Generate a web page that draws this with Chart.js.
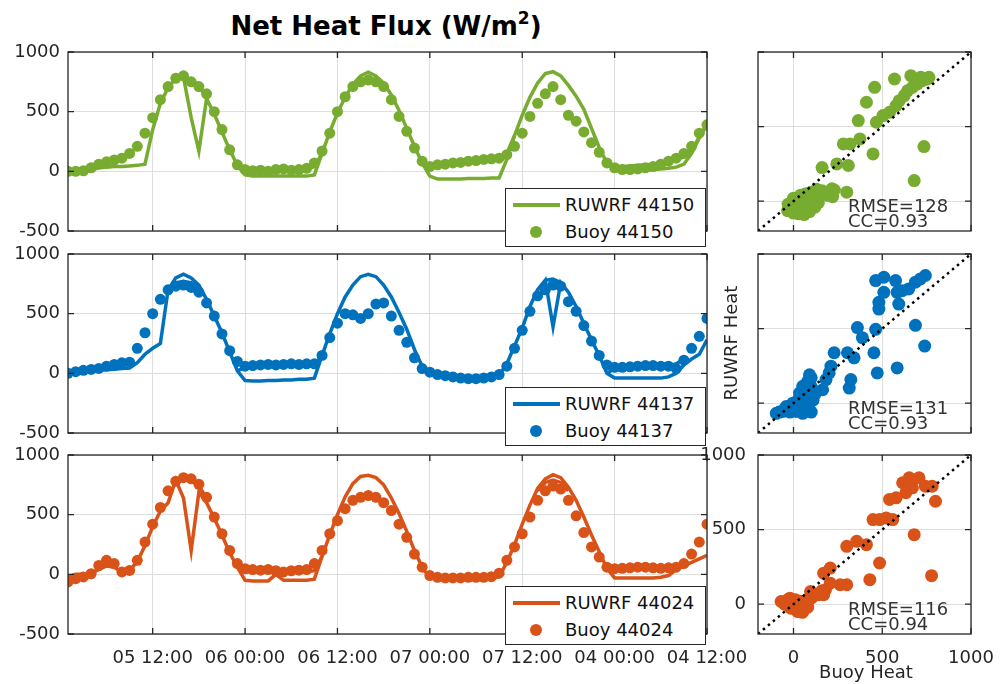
<!DOCTYPE html>
<html>
<head>
<meta charset="utf-8">
<script src="https://cdn.jsdelivr.net/npm/chart.js@4.4.0/dist/chart.umd.min.js"></script>
<style>
  body { margin: 0; background: #fff; }
  #wrap { position: relative; width: 1000px; height: 684px; overflow: hidden;
          font-family: 'DejaVu Sans', sans-serif; color: #262626; }
  canvas { position: absolute; }
  .txt { position: absolute; white-space: nowrap; font-size: 18px; }
  #title { position: absolute; left: 0; width: 772px; top: 11px; text-align: center;
           font-size: 26px; font-weight: bold; line-height: 30px; color: #000; }
  #title span { font-size: 17px; position: relative; top: -11px; }
  .legend { position: absolute; background: #fff; border: 1px solid #262626; z-index: 5; }
  .legend .ln { position: absolute; left: 7px; width: 47px; height: 4px; }
  .legend .dot { position: absolute; left: 24px; width: 12px; height: 12px; border-radius: 50%; }
  .legend .lt { position: absolute; left: 59px; line-height: 20px; font-size: 18px; color: #111; }
  .stat { position: absolute; left: 848px; font-size: 18px; line-height: 15px; color: #333; z-index: 4; }
</style>
</head>
<body>
<div id="wrap">
  <div id="title">Net Heat Flux (W/m<span>2</span>)</div>
</div>
<script>
'use strict';

// time axis, hourly samples
let tickHours = [11, 23, 35, 47, 59, 71, 83];
let tickLabels = ['05 12:00', '06 00:00', '06 12:00', '07 00:00', '07 12:00', '04 00:00', '04 12:00'];
let yTicks = [-500, 0, 500, 1000];
let scatterTicks = [0, 500, 1000];
let oneToOne = [-200, 1000];

let stations = ['44150', '44137', '44024'];
let colors = ['#77AC30', '#0072BD', '#D95319'];
let rmse = [128, 131, 116];
let cc = [0.93, 0.93, 0.94];

// 44150
let buoy150 = [0,0,5,30,60,80,95,110,150,210, 320,450,600,710,780,800,750,710,650,500,
  350,180,55,15,5,10,0,15,20,10, 15,25,70,170,320,500,625,710,750,765,
  750,710,600,460,335,195,85,40,55,60, 70,75,85,90,100,105,110,140,210,320,
  460,570,650,710,600,470,420,330,240,160, 70,30,15,15,20,30,40,60,85,110,
  150,210,320,390];
let ruwrf150 = [0,0,0,10,30,35,40,40,45,50, 60,350,570,700,780,790,450,170,610,480,
  330,180,50,-30,-40,-40,-40,-40,-40,-40, -40,-40,-30,150,330,490,620,730,800,830,
  800,740,640,510,360,210,70,-40,-65,-65, -65,-65,-60,-60,-60,-55,-55,100,300,470,
  620,740,820,835,800,720,630,520,360,200, 70,10,0,0,5,10,15,20,25,35,
  60,150,280,390];
let ruwrf150b = [null,null,null,null,null,null,null,null,null,null,
  null,null,null,null,780,800,770,720,610,null,
  null,null,50,10,10,5,10,15,20,10, 15,20,40,150,null,null,null,null,null,null,
  null,null,null,null,null,null,70,55,65,70, 75,80,85,90,95,100,105,150,300,null,
  null,null,null,null,null,null,null,null,null,null, 70,40,40,45,50,55,60,70,85,100,
  120,170,290,390];

// 44137
let buoy137 = [0,14,25,33,41,60,74,88,93,210, 340,500,620,700,730,740,720,680,590,480,
  330,190,100,60,65,70,75,70,75,80, 75,80,80,150,300,420,500,490,460,500,
  580,590,480,360,260,130,40,10,-10,-20, -30,-40,-45,-45,-40,-30,-10,60,210,360,
  520,650,700,740,730,600,520,400,270,150, 70,50,50,55,60,65,65,60,60,40,
  110,210,310,460];
let ruwrf137 = [0,10,15,20,25,30,35,40,45,90, 160,210,250,700,800,830,800,740,620,480,
  340,180,20,-60,-65,-65,-60,-60,-55,-55, -50,-50,-40,150,330,500,640,740,810,830,
  810,740,640,510,370,200,60,-10,-20,-30, -40,-45,-50,-50,-45,-35,-15,80,230,380,
  560,700,780,390,760,680,560,420,280,150, 0,-40,-40,-40,-40,-40,-40,-40,-30,0,
  70,120,160,280];
let ruwrf137b = [null,null,null,null,null,null,null,null,null,null,
  null,null,null,700,760,770,760,720,null,null,
  null,null,20,50,60,60,65,65,70,70, 70,70,70,150,null,null,null,null,null,null,
  null,null,null,null,null,null,null,null,null,null, null,null,null,null,null,null,null,null,null,null,
  null,null,780,790,760,null,null,null,null,null, 0,40,50,55,60,60,55,40,60,80,
  120,null,null,null];

// 44024
let buoy024 = [-64,-36,-22,5,75,117,90,20,33,117, 270,420,560,700,780,810,800,755,645,480,
  340,200,90,47,40,35,40,30,20,30, 35,40,90,200,340,450,550,620,645,660,
  645,600,535,420,310,170,60,-10,-25,-30, -30,-30,-25,-25,-25,-20,10,117,230,340,
  480,620,700,740,715,620,490,350,230,145, 60,47,50,55,60,60,55,50,55,60,
  90,170,270,420];
let ruwrf024 = [-20,0,0,10,40,70,60,20,30,110, 240,400,530,600,790,640,200,690,600,470,
  330,180,60,-50,-55,-55,-55,0,-50,-50, -50,-50,-40,150,330,500,650,760,820,830,
  810,750,640,510,360,200,60,-30,-40,-40, -40,-40,-40,-40,-40,-35,-20,100,250,420,
  580,720,800,835,810,730,620,480,330,190, 50,-30,-30,-30,-30,-30,-30,-25,-10,40,
  70,100,130,160];
let ruwrf024b = [null,null,null,null,null,null,null,null,null,null,
  null,null,null,null,790,810,790,740,640,null,
  null,null,60,20,20,15,20,15,20,20, 20,20,30,150,null,null,null,null,null,null,
  null,null,null,null,null,null,null,null,null,null, null,null,null,null,null,null,null,null,null,null,
  null,700,770,790,770,700,null,null,null,null, 50,40,40,45,45,50,50,50,60,60,
  80,null,null,null];

// scatter: buoy (x) vs RUWRF (y)
let scat150x = [-15,13,50,78,106,22,59,96,124,152,180,207,-33,217,161,309,281,319,374,365,411,457,569,661,717,754,448,735,680,300,467,504,541,578,596,624,643,670,698,726,763,244,
  0,30,60,90,120,140,-30,0,40,70,100,130,160,190,220,230];
let scat150y = [-40,-63,-74,-51,-29,-7,16,27,49,49,60,60,-63,83,225,239,384,384,417,540,663,763,819,841,830,819,317,366,138,60,529,574,596,641,674,708,741,763,786,808,830,250,
  -80,-85,-90,-70,-40,-10,-20,20,40,50,60,80,70,40,30,75];
let scat137x = [-97,-60,-22,15,52,90,71,90,62,80,52,34,-4,-41,164,183,211,201,229,304,341,323,314,360,388,453,472,584,463,481,481,509,463,509,575,584,593,612,649,687,715,743,687,739,
  -80,-50,-20,10,40,70,100,110,100,100,90,120,30,0];
let scat137y = [-68,-56,-45,-56,-68,-45,0,45,90,146,113,68,0,-23,90,158,248,203,338,338,304,158,101,507,439,338,203,236,495,631,676,743,822,844,822,743,664,754,766,811,833,856,522,383,
  -60,-40,-60,-40,-30,-20,-60,20,110,170,190,60,30,-20];
let scat024x = [-70,-33,4,-15,22,59,41,78,106,143,170,96,69,170,207,207,263,300,300,356,411,430,485,448,485,522,559,541,578,615,652,707,743,781,800,680,778,633,670,
  -50,-20,10,40,60,80,100,120,30,50,0,160,180];
let scat024y = [18,29,7,-27,-49,-38,-4,29,52,63,63,85,-16,208,242,141,130,130,388,421,399,164,276,567,567,578,567,702,713,814,847,847,791,791,690,466,191,747,780,
  0,40,30,20,10,-20,40,60,-40,-55,-10,90,95];

const hours = buoy150.map((v, i) => i);

const panels = [
  {top: 52, bottom: 231, buoy: buoy150, model: ruwrf150, alt: ruwrf150b, sx: scat150x, sy: scat150y, showX: false, legTop: 188},
  {top: 254, bottom: 433, buoy: buoy137, model: ruwrf137, alt: ruwrf137b, sx: scat137x, sy: scat137y, showX: false, legTop: 387},
  {top: 455, bottom: 634, buoy: buoy024, model: ruwrf024, alt: ruwrf024b, sx: scat024x, sy: scat024y, showX: true, legTop: 586}
];

Chart.defaults.font.family = "'DejaVu Sans', sans-serif";
Chart.defaults.font.size = 18;
Chart.defaults.color = '#262626';

const wrap = document.getElementById('wrap');
const gridColor = '#dedede';

function pts(xs, ys) {
  return xs.map((x, i) => ({x: x, y: ys[i]}));
}

function makeCanvas(left, top, w, h) {
  let c = document.createElement('canvas');
  c.width = w; c.height = h;
  c.style.left = left + 'px'; c.style.top = top + 'px';
  c.style.width = w + 'px'; c.style.height = h + 'px';
  wrap.appendChild(c);
  return c.getContext('2d');
}

// matlab style box with inward ticks
const boxPlugin = {
  id: 'box',
  afterDraw(chart) {
    let a = chart.chartArea;
    let c = chart.ctx;
    let xs = chart.scales.x, ys = chart.scales.y;
    c.save();
    c.strokeStyle = '#262626';
    c.lineWidth = 1.3;
    c.beginPath();
    xs.ticks.forEach(t => {
      let px = xs.getPixelForValue(t.value);
      c.moveTo(px, a.bottom); c.lineTo(px, a.bottom - 6);
      c.moveTo(px, a.top); c.lineTo(px, a.top + 6);
    });
    ys.ticks.forEach(t => {
      let py = ys.getPixelForValue(t.value);
      c.moveTo(a.left, py); c.lineTo(a.left + 6, py);
      c.moveTo(a.right, py); c.lineTo(a.right - 6, py);
    });
    c.stroke();
    c.strokeRect(a.left, a.top, a.right - a.left, a.bottom - a.top);
    c.restore();
  }
};

function seriesChart(p, i) {
  let padTop = 16;
  let bottomH = p.showX ? 50 : 16;
  let ctx = makeCanvas(0, p.top - padTop, 760, padTop + (p.bottom - p.top) + bottomH);
  new Chart(ctx, {
    type: 'scatter',
    data: {
      datasets: [
        {label: 'Buoy ' + stations[i], data: pts(hours, p.buoy), showLine: false,
         pointRadius: 5.5, pointBackgroundColor: colors[i], pointBorderWidth: 0, order: 0},
        {label: 'RUWRF ' + stations[i], data: pts(hours, p.model), showLine: true,
         borderColor: colors[i], borderWidth: 3.5, pointRadius: 0, order: 1},
        {label: 'RUWRF ' + stations[i], data: pts(hours, p.alt), showLine: true, spanGaps: false,
         borderColor: colors[i], borderWidth: 3.5, pointRadius: 0, order: 1}
      ]
    },
    options: {
      responsive: false, animation: false, devicePixelRatio: 1,
      layout: {padding: {top: padTop, right: 53, left: 0, bottom: 0}, autoPadding: false},
      plugins: {legend: {display: false}, tooltip: {enabled: false}},
      scales: {
        x: {
          type: 'linear', min: 0, max: 83,
          afterBuildTicks: s => { s.ticks = tickHours.map(v => ({value: v})); },
          afterFit: s => { s.height = bottomH; s.paddingLeft = 0; s.paddingRight = 0; },
          grid: {color: gridColor, drawTicks: false},
          border: {display: false},
          ticks: {display: p.showX, padding: 14, maxRotation: 0, autoSkip: false,
                  callback: v => tickLabels[tickHours.indexOf(v)]}
        },
        y: {
          min: -500, max: 1000,
          afterBuildTicks: s => { s.ticks = yTicks.map(v => ({value: v})); },
          afterFit: s => { s.width = 68; s.paddingTop = 0; s.paddingBottom = 0; },
          grid: {color: gridColor, drawTicks: false},
          border: {display: false},
          ticks: {padding: 8, callback: v => String(v)}
        }
      }
    },
    plugins: [boxPlugin]
  });
}

function scatterChart(p, i) {
  let padTop = 16;
  let bottomH = p.showX ? 50 : 16;
  let ctx = makeCanvas(700, p.top - padTop, 300, padTop + (p.bottom - p.top) + bottomH);
  new Chart(ctx, {
    type: 'scatter',
    data: {
      datasets: [
        {data: pts(p.sx, p.sy), pointRadius: 6.5, pointBackgroundColor: colors[i], pointBorderWidth: 0, order: 1},
        {data: pts(oneToOne, oneToOne), showLine: true, borderColor: '#000', borderWidth: 2.5,
         borderDash: [2.5, 4], pointRadius: 0, order: 0}
      ]
    },
    options: {
      responsive: false, animation: false, devicePixelRatio: 1,
      layout: {padding: {top: padTop, right: 29, left: 0, bottom: 0}, autoPadding: false},
      plugins: {legend: {display: false}, tooltip: {enabled: false}},
      scales: {
        x: {
          type: 'linear', min: -200, max: 1000,
          afterBuildTicks: s => { s.ticks = scatterTicks.map(v => ({value: v})); },
          afterFit: s => { s.height = bottomH; s.paddingLeft = 0; s.paddingRight = 0; },
          grid: {color: gridColor, drawTicks: false},
          border: {display: false},
          ticks: {display: p.showX, padding: 14, maxRotation: 0, autoSkip: false, callback: v => String(v)}
        },
        y: {
          min: -200, max: 1000,
          afterBuildTicks: s => { s.ticks = scatterTicks.map(v => ({value: v})); },
          afterFit: s => { s.width = 58; s.paddingTop = 0; s.paddingBottom = 0; },
          grid: {color: gridColor, drawTicks: false},
          border: {display: false},
          ticks: {display: p.showX, padding: 12, callback: v => String(v)}
        }
      }
    },
    plugins: [boxPlugin]
  });
}

function addLegend(p, i) {
  let box = document.createElement('div');
  box.className = 'legend';
  box.style.left = '505px';
  box.style.top = p.legTop + 'px';
  box.style.width = '199px';
  box.style.height = '57px';
  box.innerHTML =
    '<div class="ln" style="top:14px;background:' + colors[i] + '"></div>' +
    '<div class="lt" style="top:6px">RUWRF ' + stations[i] + '</div>' +
    '<div class="dot" style="top:37px;background:' + colors[i] + '"></div>' +
    '<div class="lt" style="top:33px">Buoy ' + stations[i] + '</div>';
  wrap.appendChild(box);

  let st = document.createElement('div');
  st.className = 'stat';
  st.style.top = (p.bottom - 33) + 'px';
  st.innerHTML = 'RMSE=' + rmse[i] + '<br>CC=' + cc[i].toFixed(2);
  wrap.appendChild(st);
}

panels.forEach((p, i) => {
  seriesChart(p, i);
  scatterChart(p, i);
  addLegend(p, i);
});

let xl = document.createElement('div');
xl.className = 'txt';
xl.style.cssText = 'left:766px;width:200px;text-align:center;top:661px;line-height:22px;z-index:4';
xl.textContent = 'Buoy Heat';
wrap.appendChild(xl);

let yl = document.createElement('div');
yl.className = 'txt';
yl.style.cssText = 'left:631px;width:200px;text-align:center;top:332px;line-height:22px;transform:rotate(-90deg)';
yl.textContent = 'RUWRF Heat';
wrap.appendChild(yl);
</script>
</body>
</html>
